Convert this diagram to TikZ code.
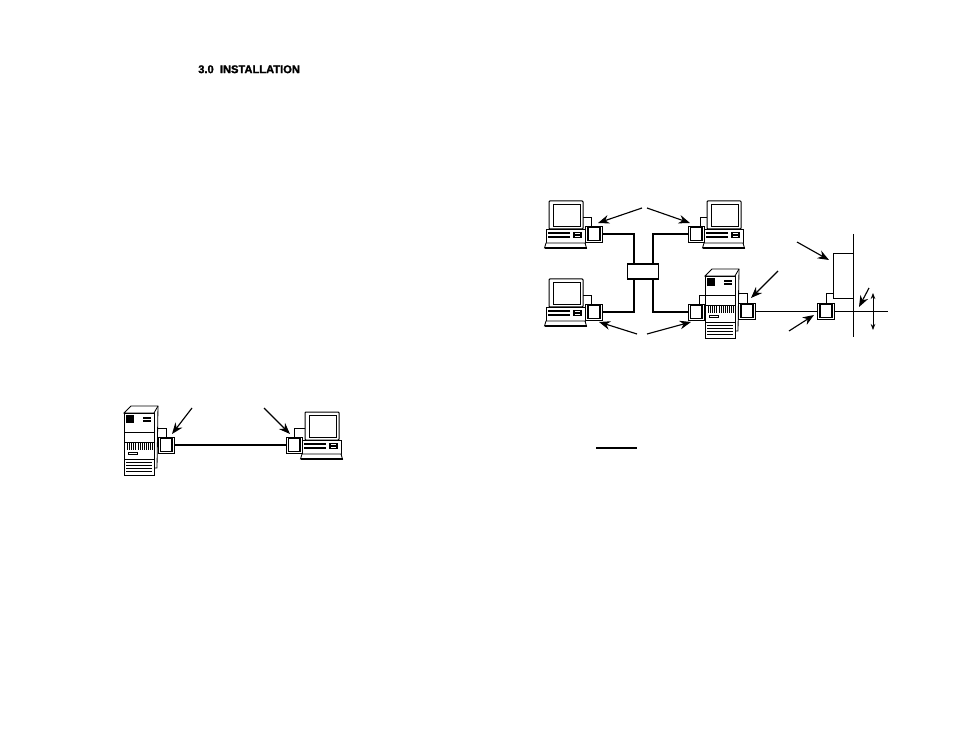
\documentclass[tikz,border=0pt]{standalone}
\usepackage{fontspec}
\setmainfont{Liberation Sans}
\newfontfamily\titlefont[BoldFeatures={FakeBold=1.6}]{Liberation Sans}
\usetikzlibrary{arrows.meta,calc}
\tikzset{
  thinln/.style={line width=0.62pt},
  medln/.style={line width=0.75pt},
  cable/.style={line width=1.4pt},
  bus/.style={line width=1.4pt},
  lead/.style={line width=0.5pt},
  callout/.style={line width=0.85pt,-{Stealth[length=8.5pt,width=6.5pt]}},
  conn/.style={draw,line width=0.5pt,fill=white,inner sep=0pt,minimum width=12.4pt,minimum height=11.8pt,
    path picture={\draw[line width=1.25pt]
      ($(path picture bounding box.south west)+(1.8pt,1pt)$) rectangle
      ($(path picture bounding box.north east)+(-1.9pt,-1pt)$);}},
  hubbox/.style={draw,line width=1.1pt,fill=white,inner sep=0pt,minimum width=23.5pt,minimum height=11pt},
  pcunit/.pic={
    \draw[medln,fill=white,rounded corners=0.6pt] (0,0) rectangle (34,28);
    \draw[thinln] (4,3) rectangle (31,25);
    \draw[thinln,fill=white] (-3,28) rectangle (36,42);
    \fill (-1,31) rectangle (21,33);
    \fill (-1,35) rectangle (21,37);
    \fill (24,31) rectangle (33,37);
    \fill[white] (26,32.4) rectangle (31,33.4);
    \fill[white] (26,34.6) rectangle (31,35.6);
    \draw[thinln,fill=white] (-3,42) -- (-4.5,47) -- (37.5,47) -- (36,42) -- cycle;
    \draw[line width=1.2pt] (-4.5,47) -- (37.5,47);
  },
  towerunit/.pic={
    \draw[thinln,fill=white] (0,7) -- (7,0) -- (34,0) -- (33,62) -- (30,62) -- (30,7) -- cycle;
    \draw[thinln] (30,7) -- (34,0);
    \draw[thinln,fill=white] (0,7) rectangle (30,69);
    \fill (2,9) rectangle (10,17);
    \draw[line width=1pt] (19,12) -- (27,12);
    \draw[line width=1pt] (19,15) -- (27,15);
    \draw[thinln] (0,26) -- (30,26);
    \draw[thinln] (0,36) -- (30,36);
    \draw[thinln] (0,53) -- (30,53);
    \foreach \xx in {3,5,7,9,11,14,16,18,20,22,24,26,28}{
      \draw[line width=0.6pt] (\xx,37) -- (\xx,44);
    }
    \draw[thinln] (4,46) rectangle (13,48);
    \foreach \yy in {56,59,62,65}{
      \draw[thinln] (2,\yy) -- (28,\yy);
    }
  }
}
\begin{document}
\begin{tikzpicture}[x=0.75pt,y=-0.75pt]
\useasboundingbox (0,0) rectangle (954,738);
\node[anchor=west,inner sep=0pt,font=\titlefont\bfseries] (title) at (198,69.3) {\fontsize{8.35pt}{10pt}\selectfont 3.0\ \ INSTALLATION};

% upper right diagram
\pic at (549,201) {pcunit};
\pic at (707,201) {pcunit};
\pic at (549,279) {pcunit};
\pic at (705,269) {towerunit};
\node[conn] (tl) at (594,234) {};
\node[conn] (tr) at (696.5,234) {};
\node[conn] (bl) at (594,312) {};
\node[conn] (br) at (696.5,312) {};
\node[conn] (srv) at (747,311) {};
\node[conn] (wall) at (826,311) {};
\node[hubbox] (hub) at (643,271.5) {};
\coordinate (hTL) at (634,264); \coordinate (hTR) at (653,264);
\coordinate (hBL) at (634,279); \coordinate (hBR) at (653,279);
\draw[bus] (tl.east) -| (hTL);
\draw[bus] (tr.west) -| (hTR);
\draw[bus] (bl.east) -| (hBL);
\draw[bus] (br.west) -| (hBR);
% thin leads
\coordinate (m1) at (583,217); \coordinate (m2) at (707,217); \coordinate (m3) at (583,295);
\coordinate (m4) at (705,295); \coordinate (m5) at (739,293); \coordinate (m6) at (833,293);
\draw[lead] (m1) -| ([xshift=-2.2pt]tl.north);
\draw[lead] (m2) -| ([xshift=2.6pt]tr.north);
\draw[lead] (m3) -| ([xshift=-2.2pt]bl.north);
\draw[lead] (m4) -| ([xshift=2pt]br.north);
\draw[lead] (m5) -| (srv.north);
% wall plate and mains
\coordinate (poleT) at (853,234); \coordinate (poleB) at (853,337);
\coordinate (lineE) at (888,311);
\node[draw,line width=0.6pt,fill=white,minimum width=15pt,minimum height=33.7pt,inner sep=0pt] (plate) at (843,275.5) {};
\draw[thinln] (poleT) -- (poleB);
\draw[thinln] (srv.east) -- (wall.west);
\draw[thinln] (wall.east) -- (lineE);
\draw[lead] (m6) -| ([xshift=0pt]wall.north);
\coordinate (dT) at (873,293); \coordinate (dB) at (873,330);
\draw[line width=0.55pt,{Stealth[length=4.5pt,width=3.4pt]}-{Stealth[length=4.5pt,width=3.4pt]}] (dT) -- (dB);
% callouts upper right
\coordinate (a1) at (642,208); \coordinate (a1e) at (598,223);
\coordinate (a2) at (647,208); \coordinate (a2e) at (690,223);
\coordinate (a3) at (637,334); \coordinate (a3e) at (599,322);
\coordinate (a4) at (647,334); \coordinate (a4e) at (691,322);
\coordinate (a5) at (778,271); \coordinate (a5e) at (751,298);
\coordinate (a6) at (797,242); \coordinate (a6e) at (829,260);
\coordinate (a7) at (789,331); \coordinate (a7e) at (814,315);
\coordinate (a8) at (869,288); \coordinate (a8e) at (859,307);
\foreach \p in {1,...,8}{\draw[callout] (a\p) -- (a\p e);}

% lower left diagram
\pic at (124,406) {towerunit};
\pic at (305,412) {pcunit};
\node[conn] (sv) at (166.5,445) {};
\node[conn] (pc) at (294.5,445) {};
\draw[cable] (sv.east) -- (pc.west);
\coordinate (m7) at (158,428); \coordinate (m8) at (305,428);
\draw[lead] (m7) -| (sv.north);
\draw[lead] (m8) -| (pc.north);
\coordinate (b1) at (192,408); \coordinate (b1e) at (172,434);
\coordinate (b2) at (264,408); \coordinate (b2e) at (290,434);
\draw[callout] (b1) -- (b1e);
\draw[callout] (b2) -- (b2e);

% rule
\coordinate (r1) at (596,448); \coordinate (r2) at (637,448);
\draw[line width=0.8pt] (r1) -- (r2);
\end{tikzpicture}
\end{document}
